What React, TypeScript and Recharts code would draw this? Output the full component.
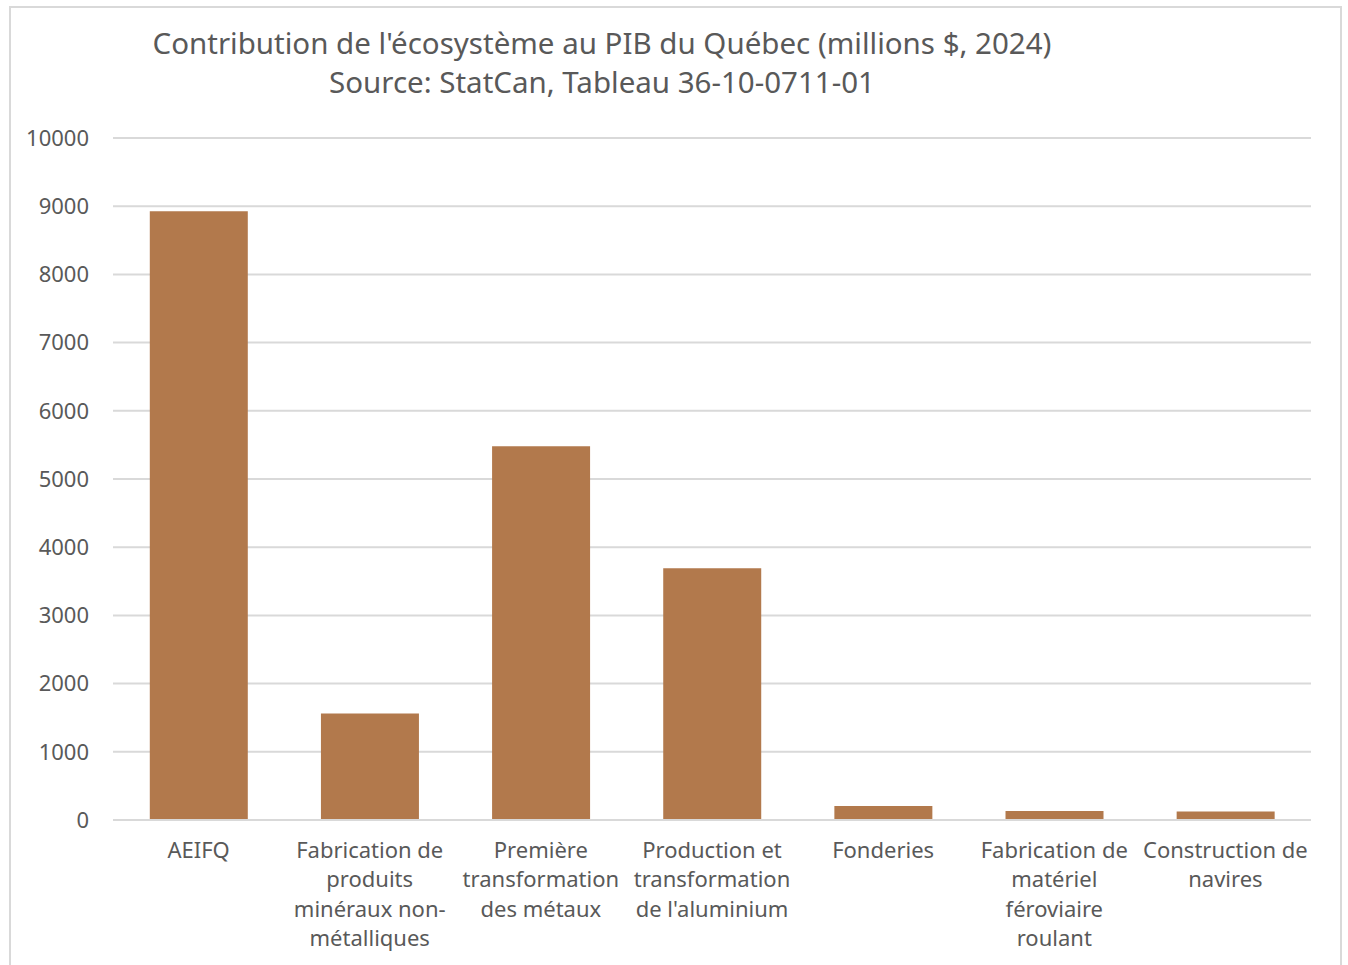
import { BarChart, Bar, XAxis, YAxis, CartesianGrid } from "recharts";

const categories = [
  "AEIFQ",
  "Fabrication de produits minéraux non-métalliques",
  "Première transformation des métaux",
  "Production et transformation de l'aluminium",
  "Fonderies",
  "Fabrication de matériel féroviaire roulant",
  "Construction de navires",
];
const pib = [8925, 1562, 5480, 3690, 205, 132, 123];
const yTicks = [0, 1000, 2000, 3000, 4000, 5000, 6000, 7000, 8000, 9000, 10000];

const data = categories.map((name, i) => ({ name, value: pib[i] }));

const FONT = "'Noto Sans', sans-serif";
const GREY = "#595959";

// greedy wrap like Excel does, breaking on spaces and after hyphens
const wrap = (label: string, max = 15) => {
  const parts: string[] = [];
  label.split(" ").forEach((w, i) => {
    const bits = w.split(/(?<=-)/);
    bits.forEach((b, j) => parts.push((i > 0 && j === 0 ? " " : "") + b));
  });
  const lines: string[] = [];
  let cur = "";
  parts.forEach((p) => {
    if (cur && (cur + p).length > max) {
      lines.push(cur);
      cur = p.trimStart();
    } else {
      cur += p;
    }
  });
  if (cur) lines.push(cur);
  return lines;
};

const CatTick = ({ x, y, payload }: any) => {
  const lines = wrap(payload.value);
  return (
    <text x={x} y={y} textAnchor="middle" fill={GREY} fontSize={22} fontFamily={FONT}>
      {lines.map((l, i) => (
        <tspan key={i} x={x} dy={i === 0 ? 30 : 29.3}>
          {l}
        </tspan>
      ))}
    </text>
  );
};

export default function App() {
  return (
    <div style={{ position: "absolute", left: 0, top: 0, width: 1348, height: 965, overflow: "hidden", background: "#fff" }}>
      <div
        style={{
          position: "absolute",
          left: 9,
          top: 6,
          width: 1329,
          height: 990,
          border: "2px solid #d9d9d9",
        }}
      />
      <div
        style={{
          position: "absolute",
          left: 0,
          top: 23,
          width: 1204,
          textAlign: "center",
          fontFamily: FONT,
          fontSize: 29.5,
          lineHeight: "39px",
          color: GREY,
        }}
      >
        <div>Contribution de l'écosystème au PIB du Québec (millions $, 2024)</div>
        <div>Source: StatCan, Tableau 36-10-0711-01</div>
      </div>
      <div style={{ position: "absolute", left: 0, top: 0 }}>
        <BarChart
          width={1348}
          height={965}
          data={data}
          margin={{ top: 138, right: 37, bottom: 0, left: 0 }}
          barCategoryGap="21.5%"
        >
          <CartesianGrid vertical={false} stroke="#d9d9d9" strokeWidth={2} />
          <XAxis
            dataKey="name"
            interval={0}
            tickLine={false}
            axisLine={{ stroke: "#d9d9d9", strokeWidth: 2 }}
            tick={<CatTick />}
            height={145}
          />
          <YAxis
            width={113}
            domain={[0, 10000]}
            ticks={yTicks}
            axisLine={false}
            tickLine={false}
            tickSize={0}
            tickMargin={24}
            tick={{ fill: GREY, fontSize: 22, fontFamily: FONT }}
          />
          <Bar dataKey="value" fill="#b2794c" isAnimationActive={false} />
        </BarChart>
      </div>
    </div>
  );
}
